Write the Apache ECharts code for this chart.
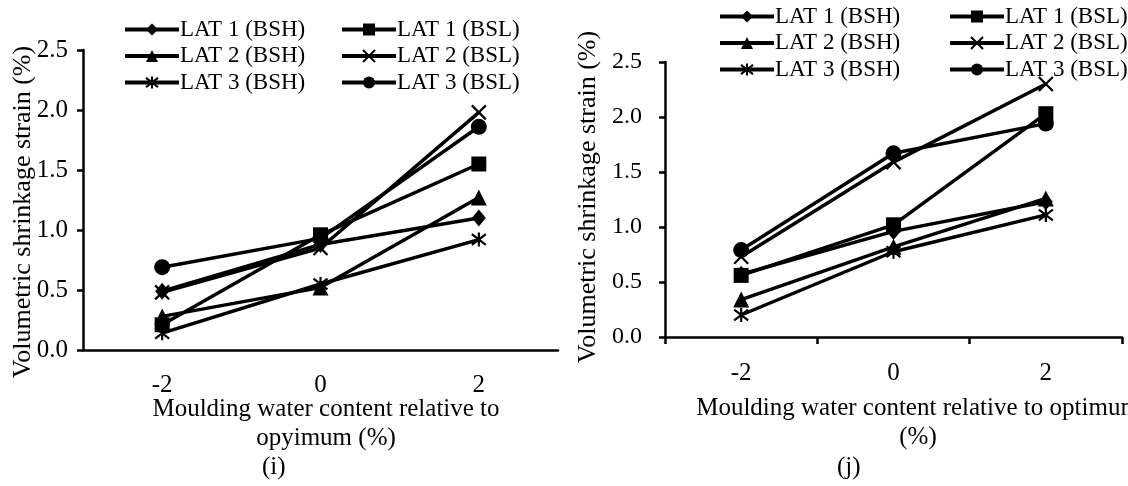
<!DOCTYPE html>
<html>
<head>
<meta charset="utf-8">
<script src="https://cdn.jsdelivr.net/npm/echarts@6/dist/echarts.min.js"></script>
<style>
  html, body { margin: 0; padding: 0; background: #fff; }
  #chart { width: 1128px; height: 486px; }
</style>
</head>
<body>
<div id="chart"></div>
<script>
// Moulding water content relative to optimum (%)
const categories = ['-2', '0', '2'];
const yTicks = [0, 0.5, 1.0, 1.5, 2.0, 2.5];

// Panel (i): volumetric shrinkage strain (%)
const lat1BSH_i = [0.49, 0.88, 1.10];
const lat1BSL_i = [0.21, 0.96, 1.55];
const lat2BSH_i = [0.28, 0.52, 1.27];
const lat2BSL_i = [0.48, 0.85, 1.98];
const lat3BSH_i = [0.14, 0.55, 0.92];
const lat3BSL_i = [0.69, 0.93, 1.86];

// Panel (j): volumetric shrinkage strain (%)
const lat1BSH_j = [0.57, 0.96, 1.23];
const lat1BSL_j = [0.56, 1.02, 2.03];
const lat2BSH_j = [0.34, 0.82, 1.26];
const lat2BSL_j = [0.73, 1.59, 2.30];
const lat3BSH_j = [0.20, 0.775, 1.11];
const lat3BSL_j = [0.79, 1.67, 1.94];

const seriesNames = ['LAT 1 (BSH)', 'LAT 1 (BSL)', 'LAT 2 (BSH)', 'LAT 2 (BSL)', 'LAT 3 (BSH)', 'LAT 3 (BSL)'];
const panelI = [lat1BSH_i, lat1BSL_i, lat2BSH_i, lat2BSL_i, lat3BSH_i, lat3BSL_i];
const panelJ = [lat1BSH_j, lat1BSL_j, lat2BSH_j, lat2BSL_j, lat3BSH_j, lat3BSL_j];

const FONT = 'Liberation Serif';
const INK = '#000';

// marker per series: filled shapes, and stroked cross / asterisk
const markers = [
  { symbol: 'diamond', size: [14, 17], stroke: 0 },
  { symbol: 'rect', size: 15, stroke: 0 },
  { symbol: 'triangle', size: 16, stroke: 0 },
  { symbol: 'path://M0,0L10,10M10,0L0,10', size: 14, stroke: 2.2 },
  { symbol: 'path://M0,0L10,10M10,0L0,10M5,-1.5L5,11.5', size: 14, stroke: 2.2 },
  { symbol: 'circle', size: 16, stroke: 0 }
];

function makeSeries(values, idx, axisIndex) {
  const m = markers[idx];
  return {
    type: 'line',
    name: seriesNames[idx],
    xAxisIndex: axisIndex,
    yAxisIndex: axisIndex,
    data: values,
    symbol: m.symbol,
    symbolSize: m.size,
    showAllSymbol: true,
    animation: false,
    lineStyle: { color: INK, width: 3.5 },
    itemStyle: { color: INK, borderColor: INK, borderWidth: m.stroke, opacity: 1 },
    emphasis: { disabled: true }
  };
}

const series = [];
panelI.forEach((v, i) => series.push(makeSeries(v, i, 0)));
panelJ.forEach((v, i) => series.push(makeSeries(v, i, 1)));

function yAxis(gridIndex, labelSize, labelMargin, nameGap, namePad) {
  return {
    type: 'value',
    gridIndex: gridIndex,
    min: yTicks[0],
    max: yTicks[yTicks.length - 1],
    interval: 0.5,
    name: 'Volumetric shrinkage strain (%)',
    nameLocation: 'middle',
    nameGap: nameGap,
    nameMoveOverlap: false,
    nameTextStyle: { fontFamily: FONT, fontSize: 26, color: INK, lineHeight: 26, padding: namePad },
    axisLine: { show: true, lineStyle: { color: INK, width: 2.5 } },
    axisTick: { show: true, inside: false, length: 6, lineStyle: { color: INK, width: 2.5 } },
    axisLabel: {
      fontFamily: FONT, fontSize: labelSize, color: INK, margin: labelMargin,
      formatter: v => v.toFixed(1)
    },
    splitLine: { show: false }
  };
}

function xAxis(gridIndex, showTicks, name, nameGap, namePad, labelMargin) {
  return {
    type: 'category',
    gridIndex: gridIndex,
    data: categories,
    boundaryGap: true,
    name: name,
    nameLocation: 'middle',
    nameGap: nameGap,
    nameMoveOverlap: false,
    nameTextStyle: { fontFamily: FONT, fontSize: 25, color: INK, lineHeight: 29, padding: namePad },
    axisLine: { show: true, lineStyle: { color: INK, width: 2.5 } },
    axisTick: { show: showTicks, inside: false, length: 7, lineStyle: { color: INK, width: 2.5 } },
    axisLabel: { fontFamily: FONT, fontSize: 25, color: INK, margin: labelMargin },
    splitLine: { show: false }
  };
}

function legend(names, left, top) {
  return {
    data: names,
    orient: 'vertical',
    left: left,
    top: top,
    padding: 0,
    itemWidth: 54,
    itemHeight: 15,
    itemGap: 3.5,
    selectedMode: false,
    lineStyle: { width: 4 },
    textStyle: { fontFamily: FONT, fontSize: 23, color: INK, lineHeight: 23, padding: [0, 0, 0, -4] }
  };
}

const bsh = [seriesNames[0], seriesNames[2], seriesNames[4]];
const bsl = [seriesNames[1], seriesNames[3], seriesNames[5]];

const option = {
  backgroundColor: '#fff',
  animation: false,
  grid: [
    { left: 83, top: 50, width: 475, height: 300, containLabel: false, outerBoundsMode: 'none' },
    { left: 665, top: 62, width: 457, height: 275, containLabel: false, outerBoundsMode: 'none' }
  ],
  xAxis: [
    xAxis(0, false, 'Moulding water content relative to\nopyimum (%)', 45, [0, 0, 0, 11], 22.5),
    xAxis(1, true, 'Moulding water content relative to optimum\n(%)', 57, [0, 0, 0, 49], 23.5)
  ],
  yAxis: [
    yAxis(0, 25, 15, 47, [0, 24, 0, 0]),
    yAxis(1, 24, 23, 64, [0, 0, 0, 5])
  ],
  legend: [
    legend(bsh, 123, 18),
    legend(bsl, 340, 18),
    legend(bsh, 718, 5),
    legend(bsl, 948, 5)
  ],
  graphic: [
    { type: 'text', left: 262, top: 455, silent: true,
      style: { text: '(i)', font: '25px "Liberation Serif"', fill: INK } },
    { type: 'text', left: 837, top: 455, silent: true,
      style: { text: '(j)', font: '25px "Liberation Serif"', fill: INK } }
  ],
  series: series
};

const chart = echarts.init(document.getElementById('chart'), null, { renderer: 'canvas' });
chart.setOption(option);
</script>
</body>
</html>
